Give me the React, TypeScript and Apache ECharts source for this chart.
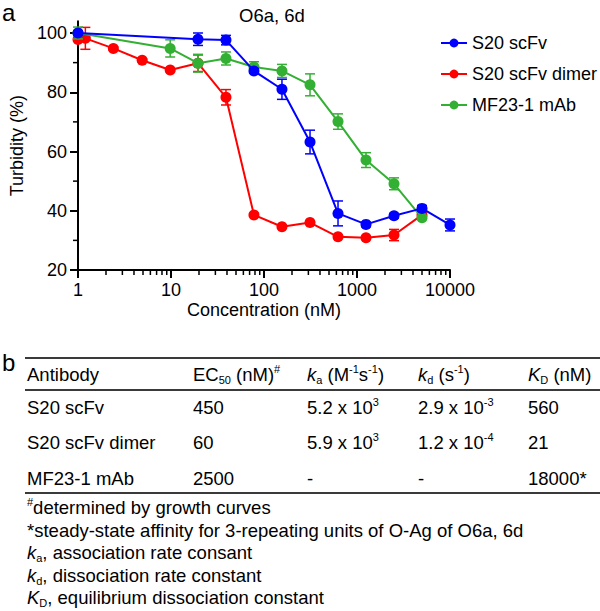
import React, { useEffect, useRef } from 'react';
import * as echarts from 'echarts';

const FONT = "'Liberation Sans', Arial, Helvetica, sans-serif";

// ---- Data ----
const seriesNames = ['S20 scFv', 'S20 scFv dimer', 'MF23-1 mAb'];
const seriesColors = ['#0000ff', '#ff0000', '#33b033'];

const scfvConc = [1, 19.5, 39, 78, 156, 312.5, 625, 1250, 2500, 5000, 10000];
const scfvTurb = [100, 97.9, 97.6, 87.2, 81.0, 63.2, 39.1, 35.4, 38.3, 40.8, 35.2];
const scfvErr = [0.8, 2.1, 1.6, 0.8, 3.4, 4.0, 4.2, 0.8, 0.8, 1.0, 2.0];

const dimerConc = [1, 1.2, 2.4, 4.9, 9.8, 19.5, 39, 78, 156, 312.5, 625, 1250, 2500, 5000];
const dimerTurb = [97.8, 98.2, 94.8, 90.8, 87.5, 89.8, 78.3, 38.6, 34.6, 36.0, 31.2, 30.9, 31.8, 38.6];
const dimerErr = [0.5, 3.7, 0.5, 0.5, 0.5, 2.8, 2.6, 0.5, 0.5, 0.5, 0.5, 0.5, 1.9, 0.8];

const mabConc = [1, 9.8, 19.5, 39, 78, 156, 312.5, 625, 1250, 2500, 5000];
const mabTurb = [100, 94.8, 89.8, 91.4, 88.5, 87.2, 82.5, 70.1, 57.1, 49.1, 37.6];
const mabErr = [2.0, 2.9, 3.0, 2.2, 1.8, 2.2, 3.7, 2.6, 2.5, 2.0, 0.5];

const xMinorTicks = [2, 3, 4, 5, 6, 7, 8, 9, 20, 30, 40, 50, 60, 70, 80, 90, 200, 300, 400, 500, 600, 700, 800, 900, 2000, 3000, 4000, 5000, 6000, 7000, 8000, 9000];
const yTickValues = [20, 40, 60, 80, 100];
const yMinorTicks = [30, 50, 70, 90];

// Table
const tableHeaders = [
  'Antibody',
  'EC{sub|50} (nM){sup|#}',
  '{it|k}{sub|a} (M{sup|-1}s{sup|-1})',
  '{it|k}{sub|d} (s{sup|-1})',
  '{it|K}{sub|D} (nM)',
];
const antibodies = ['S20 scFv', 'S20 scFv dimer', 'MF23-1 mAb'];
const ec50Values = ['450', '60', '2500'];
const kaMantissa = ['5.2', '5.9', '-'];
const kaExponent = ['3', '3', ''];
const kdMantissa = ['2.9', '1.2', '-'];
const kdExponent = ['-3', '-4', ''];
const kDValues = ['560', '21', '18000*'];
const footnotes = [
  '{sup|#}determined by growth curves',
  '*steady-state affinity for 3-repeating units of O-Ag of O6a, 6d',
  '{it|k}{sub|a}, association rate consant',
  '{it|k}{sub|d}, dissociation rate constant',
  '{it|K}{sub|D}, equilibrium dissociation constant',
];

// ---- Layout constants ----
const colX = [27, 193, 307, 418, 528];
const headerY = 374;
const rowY = [407, 442, 478];
const footY = [507, 530, 552, 575, 597];
const tableLines = [358, 390, 493];

const TXT = 18.5;
const richStyles = {
  it: { fontStyle: 'italic', fontSize: TXT, fontFamily: FONT, fill: '#000', color: '#000', lineHeight: 22 },
  sub: { fontSize: 11, fontFamily: FONT, fill: '#000', color: '#000', verticalAlign: 'bottom', lineHeight: 22 },
  sup: { fontSize: 11, fontFamily: FONT, fill: '#000', color: '#000', verticalAlign: 'top', lineHeight: 22 },
};

function textEl(text: string, x: number, y: number, size = TXT) {
  return {
    type: 'text',
    x,
    y,
    silent: true,
    style: {
      text,
      fontSize: size,
      fontFamily: FONT,
      fill: '#000',
      lineHeight: 22,
      rich: richStyles,
      align: 'left',
      verticalAlign: 'middle',
      textAlign: 'left',
      textVerticalAlign: 'middle',
    },
  };
}

function errorSeries(name: string, conc: number[], turb: number[], err: number[], color: string, z: number) {
  return {
    type: 'custom',
    name: name + ' err',
    data: conc.map((c, i) => [c, turb[i], err[i]]),
    encode: { x: 0, y: 1 },
    clip: false,
    silent: true,
    z,
    renderItem: (params: any, api: any) => {
      const x = api.value(0);
      const y = api.value(1);
      const e = api.value(2);
      const top = api.coord([x, y + e]);
      const bot = api.coord([x, y - e]);
      const w = 5;
      const st = { stroke: color, lineWidth: 1.5 };
      return {
        type: 'group',
        children: [
          { type: 'line', shape: { x1: top[0], y1: top[1], x2: bot[0], y2: bot[1] }, style: st },
          { type: 'line', shape: { x1: top[0] - w, y1: top[1], x2: top[0] + w, y2: top[1] }, style: st },
          { type: 'line', shape: { x1: bot[0] - w, y1: bot[1], x2: bot[0] + w, y2: bot[1] }, style: st },
        ],
      };
    },
  };
}

function lineSeries(name: string, conc: number[], turb: number[], color: string, z: number) {
  return {
    type: 'line',
    name,
    data: conc.map((c, i) => [c, turb[i]]),
    symbol: 'circle',
    symbolSize: 11,
    showSymbol: true,
    clip: false,
    z,
    lineStyle: { color, width: 2 },
    itemStyle: { color },
  };
}

export default function App() {
  const ref = useRef<HTMLDivElement>(null);
  useEffect(() => {
    if (!ref.current) return;
    const chart = echarts.init(ref.current, null, { renderer: 'svg' });

    const graphics: any[] = [];
    graphics.push(textEl('a', 2, 12, 24));
    graphics.push(textEl('b', 2, 362, 24));
    tableLines.forEach((y) => {
      graphics.push({
        type: 'line',
        silent: true,
        shape: { x1: 25, y1: y, x2: 600, y2: y },
        style: { stroke: '#3a3a3a', lineWidth: 2 },
      });
    });
    tableHeaders.forEach((h, i) => graphics.push(textEl(h, colX[i], headerY)));
    antibodies.forEach((a, r) => {
      graphics.push(textEl(a, colX[0], rowY[r]));
      graphics.push(textEl(ec50Values[r], colX[1], rowY[r]));
      graphics.push(textEl(kaExponent[r] ? `${kaMantissa[r]} x 10{sup|${kaExponent[r]}}` : kaMantissa[r], colX[2], rowY[r]));
      graphics.push(textEl(kdExponent[r] ? `${kdMantissa[r]} x 10{sup|${kdExponent[r]}}` : kdMantissa[r], colX[3], rowY[r]));
      graphics.push(textEl(kDValues[r], colX[4], rowY[r]));
    });
    footnotes.forEach((f, i) => graphics.push(textEl(f, colX[0], footY[i])));

    const option: any = {
      animation: false,
      backgroundColor: '#fff',
      textStyle: { fontFamily: FONT },
      title: {
        text: 'O6a, 6d',
        left: 234,
        top: 1,
        textStyle: { fontSize: 18.5, fontWeight: 'normal', color: '#000', fontFamily: FONT },
      },
      legend: {
        data: seriesNames,
        orient: 'vertical',
        left: 435,
        top: 28,
        itemWidth: 26,
        itemHeight: 11,
        itemGap: 11,
        textStyle: { fontSize: 18, color: '#000', fontFamily: FONT, lineHeight: 20 },
      },
      grid: {
        left: 78,
        right: 150,
        top: 21.15,
        bottom: 341,
        containLabel: false,
        outerBoundsMode: 'none',
      },
      xAxis: {
        type: 'log',
        logBase: 10,
        min: 1,
        max: 10000,
        name: 'Concentration (nM)',
        nameLocation: 'middle',
        nameGap: 31,
        nameTextStyle: { fontSize: 18, color: '#000', fontFamily: FONT },
        axisLine: { lineStyle: { color: '#000', width: 2 } },
        axisTick: { length: 8, lineStyle: { color: '#000', width: 2 } },
        axisLabel: {
          fontSize: 18,
          color: '#000',
          fontFamily: FONT,
          margin: 11,
          formatter: (v: number) => String(Math.round(v)),
        },
        splitLine: { show: false },
      },
      yAxis: {
        type: 'value',
        min: 20,
        max: 104,
        interval: 20,
        name: 'Turbidity (%)',
        nameLocation: 'middle',
        nameGap: 42,
        nameRotate: 90,
        nameTextStyle: { fontSize: 18, color: '#000', fontFamily: FONT },
        axisLine: { show: true, lineStyle: { color: '#000', width: 2 } },
        axisTick: { show: true, length: 8, customValues: yTickValues, lineStyle: { color: '#000', width: 2 } },
        axisLabel: {
          fontSize: 18,
          color: '#000',
          fontFamily: FONT,
          margin: 11,
          customValues: yTickValues,
          formatter: (v: number) => (v % 20 === 0 ? String(v) : ''),
        },
        splitLine: { show: false },
      },
      graphic: { elements: graphics },
      series: [
        {
          type: 'custom',
          name: 'xminor',
          data: xMinorTicks.map((v) => [v, 20]),
          encode: { x: 0, y: 1 },
          clip: false,
          silent: true,
          renderItem: (params: any, api: any) => {
            const p = api.coord([api.value(0), api.value(1)]);
            return {
              type: 'line',
              shape: { x1: p[0], y1: p[1], x2: p[0], y2: p[1] + 5 },
              style: { stroke: '#000', lineWidth: 1.5 },
            };
          },
        },
        {
          type: 'custom',
          name: 'yminor',
          data: yMinorTicks.map((v) => [1, v]),
          encode: { x: 0, y: 1 },
          clip: false,
          silent: true,
          renderItem: (params: any, api: any) => {
            const p = api.coord([api.value(0), api.value(1)]);
            return {
              type: 'line',
              shape: { x1: p[0] - 5, y1: p[1], x2: p[0], y2: p[1] },
              style: { stroke: '#000', lineWidth: 1.5 },
            };
          },
        },
        lineSeries(seriesNames[1], dimerConc, dimerTurb, seriesColors[1], 2),
        errorSeries(seriesNames[1], dimerConc, dimerTurb, dimerErr, seriesColors[1], 3),
        lineSeries(seriesNames[2], mabConc, mabTurb, seriesColors[2], 4),
        errorSeries(seriesNames[2], mabConc, mabTurb, mabErr, seriesColors[2], 5),
        lineSeries(seriesNames[0], scfvConc, scfvTurb, seriesColors[0], 6),
        errorSeries(seriesNames[0], scfvConc, scfvTurb, scfvErr, seriesColors[0], 7),
      ],
    };
    chart.setOption(option);
    return () => chart.dispose();
  }, []);

  return (
    <div
      ref={ref}
      style={{ position: 'absolute', left: 0, top: 0, width: 600, height: 611, background: '#fff' }}
    />
  );
}
